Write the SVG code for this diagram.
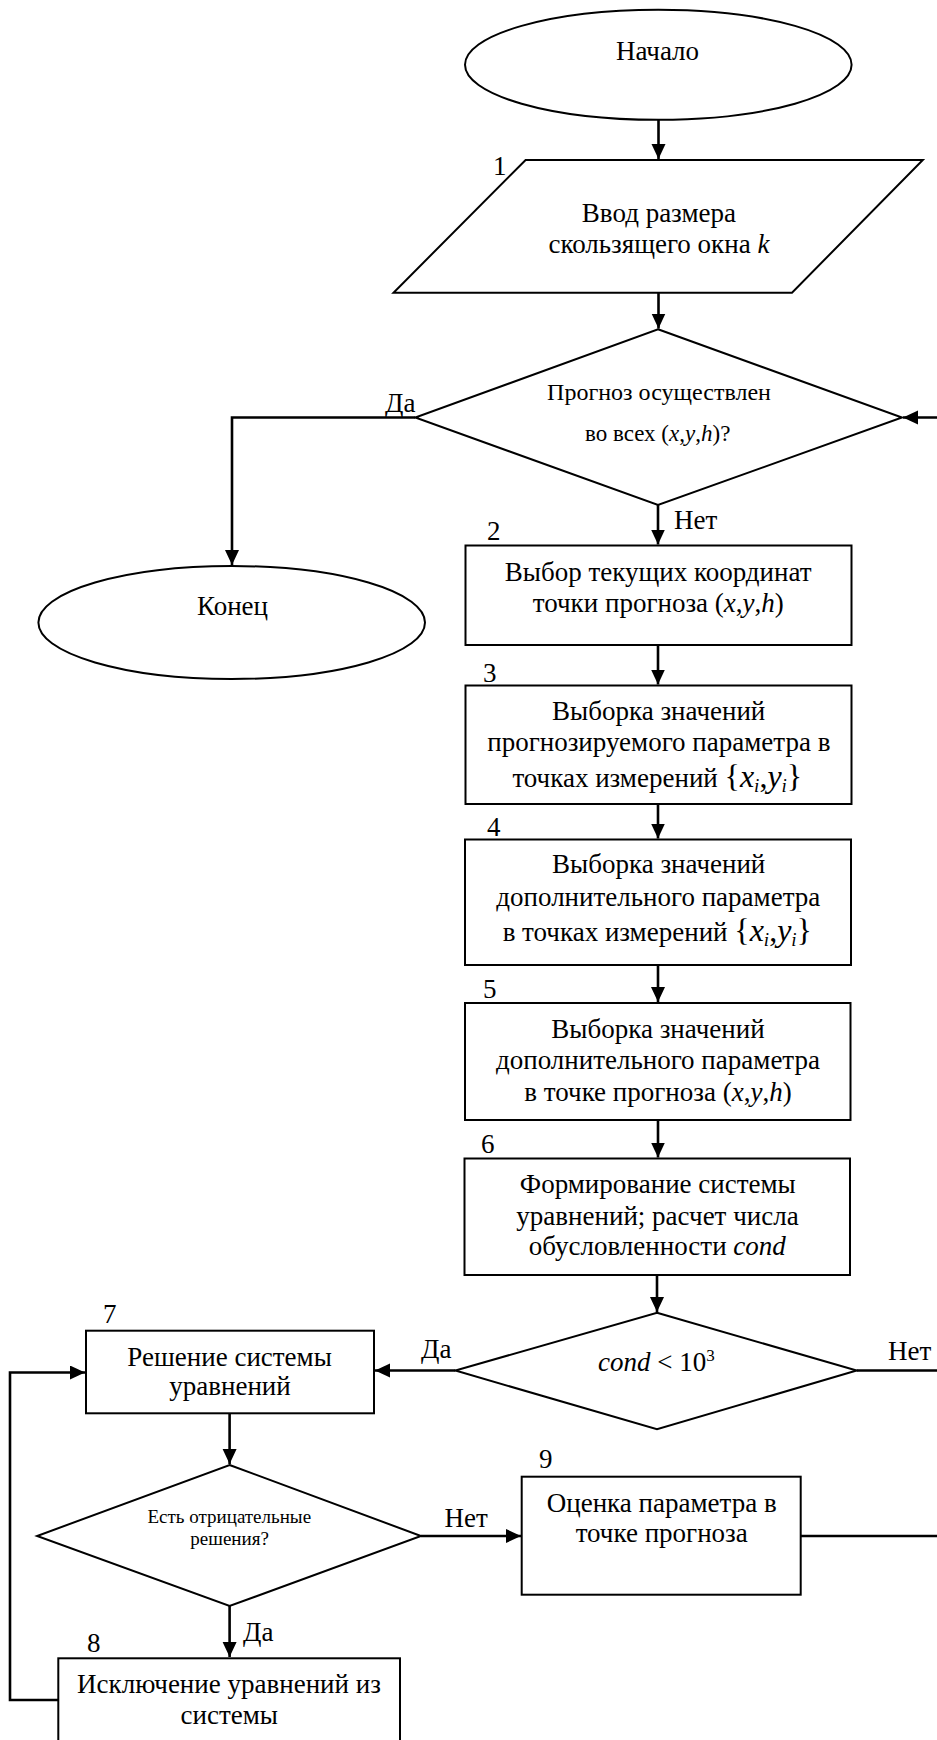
<svg xmlns="http://www.w3.org/2000/svg" width="937" height="1740" viewBox="0 0 937 1740" font-family="'Liberation Serif', 'DejaVu Serif', serif">
<style>
  .sh { fill: #fff; stroke: #000; stroke-width: 2; }
  .cn { fill: none; stroke: #000; stroke-width: 2.6; }
  text { font-family: 'Liberation Serif', 'DejaVu Serif', serif; fill: #000; font-size: 27px; }
  .c { text-anchor: middle; }
  .sm { font-size: 24px; }
  .sm2 { font-size: 23px; }
  .xs { font-size: 19px; }
  .sup { font-size: 17px; }
  .i { font-style: italic; }
  .m { font-size: 32px; }
  .sub { font-size: 19px; font-style: italic; }
</style>
<defs>
  <marker id="ah" markerUnits="userSpaceOnUse" markerWidth="16" markerHeight="16" refX="15" refY="7" orient="auto">
    <path d="M0,0 L15,7 L0,14 z" fill="#000"/>
  </marker>
</defs>
<rect width="937" height="1740" fill="#fff"/>

<g id="connectors">
  <path class="cn" d="M658.5,120 V159" marker-end="url(#ah)"/>
  <path class="cn" d="M658.5,292.7 V328.5" marker-end="url(#ah)"/>
  <path class="cn" d="M415.3,417.5 H232 V565" marker-end="url(#ah)"/>
  <path class="cn" d="M658,505 V544.5" marker-end="url(#ah)"/>
  <path class="cn" d="M658,645 V684.5" marker-end="url(#ah)"/>
  <path class="cn" d="M658,804 V838.5" marker-end="url(#ah)"/>
  <path class="cn" d="M658,965 V1002" marker-end="url(#ah)"/>
  <path class="cn" d="M658,1120 V1157.5" marker-end="url(#ah)"/>
  <path class="cn" d="M657,1275 V1312" marker-end="url(#ah)"/>
  <path class="cn" d="M455.4,1370.5 H375" marker-end="url(#ah)"/>
  <path class="cn" d="M856.7,1370.5 H960 V417.5 H903" marker-end="url(#ah)"/>
  <path class="cn" d="M800.7,1536 H960"/>
  <path class="cn" d="M229.6,1413.3 V1464" marker-end="url(#ah)"/>
  <path class="cn" d="M421,1536 H521" marker-end="url(#ah)"/>
  <path class="cn" d="M229.6,1606 V1657" marker-end="url(#ah)"/>
  <path class="cn" d="M58.3,1700 H10 V1372.5 H85" marker-end="url(#ah)"/>
  <text x="385" y="411.7">Да</text>
  <text x="674" y="529">Нет</text>
  <text x="421" y="1358">Да</text>
  <text x="888" y="1360">Нет</text>
  <text x="444.6" y="1526.7">Нет</text>
  <text x="243" y="1640.7">Да</text>
</g>

<g id="start">
  <ellipse class="sh" cx="658.3" cy="64.8" rx="193.3" ry="55"/>
  <text class="c" x="657.5" y="60">Начало</text>
</g>

<g id="n1">
  <polygon class="sh" points="525.6,160 922.8,160 792,292.7 393.5,292.7"/>
  <text x="493" y="175">1</text>
  <text class="c" x="658.9" y="221.7">Ввод размера</text>
  <text class="c" x="658.9" y="253.3">скользящего окна <tspan class="i">k</tspan></text>
</g>

<g id="d1">
  <polygon class="sh" points="658,329.3 902,417.5 658,505 415.3,417.5"/>
  <text class="c sm" x="659" y="400">Прогноз осуществлен</text>
  <text class="c sm2" x="657.7" y="440.7">во всех (<tspan class="i">x</tspan>,<tspan class="i">y</tspan>,<tspan class="i">h</tspan>)?</text>
</g>

<g id="end">
  <ellipse class="sh" cx="231.7" cy="622.5" rx="193.3" ry="56.5"/>
  <text class="c" x="232.5" y="615">Конец</text>
</g>

<g id="n2">
  <rect class="sh" x="465.5" y="545.5" width="386" height="99.5"/>
  <text x="487" y="540">2</text>
  <text class="c" x="658.2" y="580.7">Выбор текущих координат</text>
  <text class="c" x="658.3" y="611.7">точки прогноза (<tspan class="i">x</tspan>,<tspan class="i">y</tspan>,<tspan class="i">h</tspan>)</text>
</g>

<g id="n3">
  <rect class="sh" x="465.5" y="685.5" width="386" height="118.5"/>
  <text x="483" y="681.7">3</text>
  <text class="c" x="658.7" y="720">Выборка значений</text>
  <text class="c" x="658.8" y="751">прогнозируемого параметра в</text>
  <text class="c" x="657.3" y="786.7">точках измерений  <tspan class="m">{</tspan><tspan class="m i">x</tspan><tspan class="sub" dy="5">i</tspan><tspan class="m" dy="-5">,</tspan><tspan class="m i">y</tspan><tspan class="sub" dy="5">i</tspan><tspan class="m" dy="-5">}</tspan></text>
</g>

<g id="n4">
  <rect class="sh" x="465" y="839.5" width="386" height="125.5"/>
  <text x="487" y="836">4</text>
  <text class="c" x="658.7" y="873.3">Выборка значений</text>
  <text class="c" x="658.3" y="906">дополнительного параметра</text>
  <text class="c" x="657.3" y="941">в точках измерений <tspan class="m">{</tspan><tspan class="m i">x</tspan><tspan class="sub" dy="5">i</tspan><tspan class="m" dy="-5">,</tspan><tspan class="m i">y</tspan><tspan class="sub" dy="5">i</tspan><tspan class="m" dy="-5">}</tspan></text>
</g>

<g id="n5">
  <rect class="sh" x="465" y="1003" width="385.5" height="117"/>
  <text x="483" y="998">5</text>
  <text class="c" x="658" y="1038">Выборка значений</text>
  <text class="c" x="658" y="1069">дополнительного параметра</text>
  <text class="c" x="658" y="1101">в точке прогноза (<tspan class="i">x</tspan>,<tspan class="i">y</tspan>,<tspan class="i">h</tspan>)</text>
</g>

<g id="n6">
  <rect class="sh" x="464.5" y="1158.5" width="385.5" height="116.5"/>
  <text x="481" y="1152.7">6</text>
  <text class="c" x="657.8" y="1193.3">Формирование системы</text>
  <text class="c" x="657.5" y="1225">уравнений; расчет числа</text>
  <text class="c" x="657.3" y="1255">обусловленности <tspan class="i">cond</tspan></text>
</g>

<g id="d2">
  <polygon class="sh" points="657,1312.7 856.7,1370.5 657,1429.3 455.4,1370.5"/>
  <text class="c" x="656.3" y="1370.7"><tspan class="i">cond</tspan> &lt; 10<tspan class="sup" dy="-10">3</tspan></text>
</g>

<g id="n7">
  <rect class="sh" x="86" y="1330.7" width="288" height="82.6"/>
  <text x="103" y="1322.7">7</text>
  <text class="c" x="229.6" y="1366">Решение системы</text>
  <text class="c" x="230" y="1395">уравнений</text>
</g>

<g id="d3">
  <polygon class="sh" points="229.6,1465 421,1536 229.6,1606 37.1,1536"/>
  <text class="c xs" x="229.3" y="1523.3">Есть отрицательные</text>
  <text class="c xs" x="229.6" y="1545">решения?</text>
</g>

<g id="n9">
  <rect class="sh" x="521.7" y="1476.7" width="279" height="118"/>
  <text x="539" y="1468.3">9</text>
  <text class="c" x="661.7" y="1511.7">Оценка параметра в</text>
  <text class="c" x="661.7" y="1541.7">точке прогноза</text>
</g>

<g id="n8">
  <rect class="sh" x="58.3" y="1658.3" width="341.7" height="100"/>
  <text x="87" y="1651.7">8</text>
  <text class="c" x="229" y="1692.7">Исключение уравнений из</text>
  <text class="c" x="229.2" y="1724">системы</text>
</g>
</svg>
